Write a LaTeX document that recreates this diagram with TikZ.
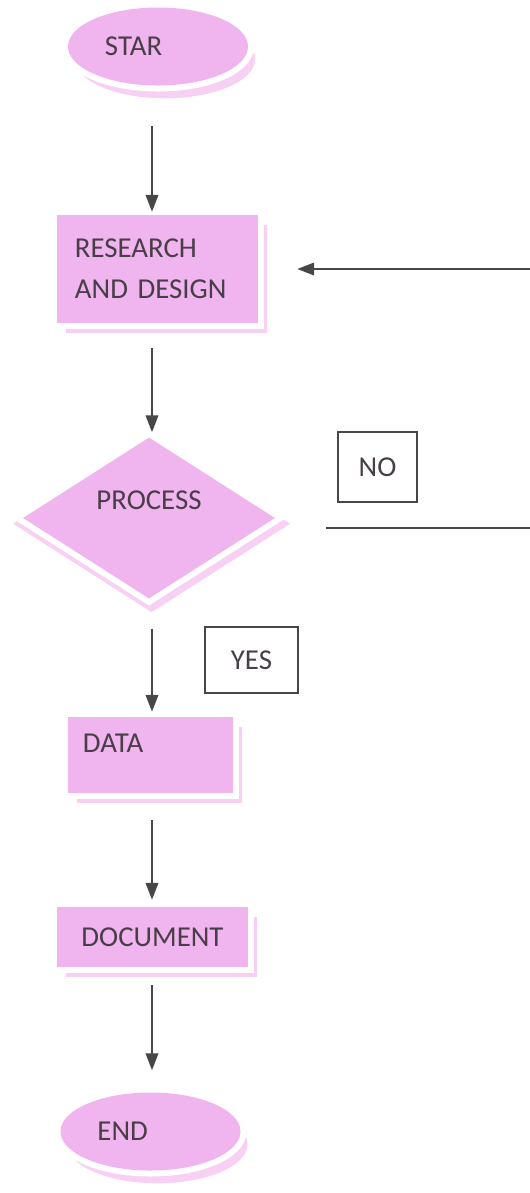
\documentclass[tikz,border=0pt]{standalone}
\usepackage{fontspec}
\setmainfont{Carlito}
\usepackage{tikz}
\usetikzlibrary{positioning, arrows.meta, shadows, shapes.geometric}
\tikzset{>={Triangle[length=12pt,width=9pt]}}

\definecolor{flowpink}{RGB}{240,180,238}
\definecolor{shadowpink}{RGB}{247,208,243}
\definecolor{inkgray}{RGB}{72,62,72}
\definecolor{linegray}{RGB}{72,70,72}

\begin{document}
\begin{tikzpicture}[x=0.025cm, y=-0.025cm,
    font=\fontsize{20.5}{29}\selectfont, text=inkgray,
    flowshape/.style={preaction={draw=white, line width=0.3cm}, fill=flowpink},
    terminal/.style={drop shadow={shadow xshift=0.175cm, shadow yshift=-0.32cm, fill=shadowpink, opacity=1},
        flowshape, ellipse, minimum width=4.5cm, minimum height=1.95cm, text width=2.65cm, align=left},
    stepbox/.style={drop shadow={shadow xshift=0.225cm, shadow yshift=-0.26cm, fill=shadowpink, opacity=1},
        flowshape, rectangle, align=left, inner ysep=0pt},
    decision/.style={drop shadow={shadow scale=1.1, shadow xshift=0.06cm, shadow yshift=-0.13cm, fill=shadowpink, opacity=1},
        flowshape, diamond, aspect=1.56, inner sep=0pt, minimum width=6.3cm, minimum height=4.025cm},
    answer/.style={draw=linegray, line width=1pt, align=center},
    link/.style={draw=linegray, line width=1.2pt},
  ]
    \useasboundingbox (0,0) rectangle (530,1193);

    % main column
    \coordinate (col) at (152,0);
    \node[terminal] (star) at (158,46.5) {STAR};
    \node[stepbox, text width=4.125cm, inner xsep=0.45cm, minimum height=2.7cm] (research) at (157.5,269) {RESEARCH\\AND DESIGN};
    \node[decision, text height=13pt, text depth=25.8pt] (process) at (149,518) {PROCESS};
    \node[stepbox, text width=3.375cm, inner xsep=0.375cm, minimum height=1.9cm, text height=13pt, text depth=17.2pt] (data) at (150.5,755) {DATA};
    \node[stepbox, minimum width=4.775cm, minimum height=1.5cm, align=center] (doc) at (152.5,937) {DOCUMENT};
    \node[terminal] (finish) at (150.5,1131.5) {END};

    % answers
    \node[answer, minimum width=1.975cm, minimum height=1.75cm] (no) at (377.5,467) {NO};
    \node[answer, minimum width=2.325cm, minimum height=1.65cm] (yes) at (251.5,660) {YES};

    \draw[->, link, shorten <=1cm, shorten >=0.075cm] (star.south -| col) -- (research.north -| col);
    \draw[->, link, shorten <=0.625cm, shorten >=0.125cm] (research.south -| col) -- (process.north -| col);
    \draw[->, link, shorten <=0.75cm, shorten >=0.125cm] (process.south -| col) -- (data.north -| col);
    \draw[->, link, shorten <=0.675cm, shorten >=0.175cm] (data.south -| col) -- (doc.north -| col);
    \draw[->, link, shorten <=0.45cm, shorten >=0.55cm] (doc.south -| col) -- (finish.north -| col);

    % NO branch back to research
    \coordinate (noout) at (530,528);
    \coordinate (noback) at (530,269);
    \draw[link, shorten <=1.275cm] (noout -| process.east) -- (noout);
    \draw[->, link, shorten >=0.975cm] (noback) -- (research.east);
\end{tikzpicture}
\end{document}
